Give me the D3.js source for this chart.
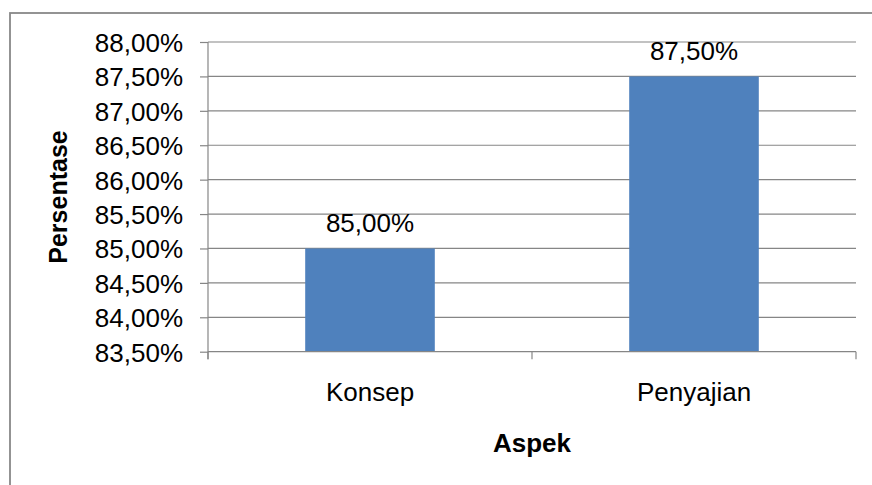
<!DOCTYPE html>
<html>
<head>
<meta charset="utf-8">
<script src="https://cdn.jsdelivr.net/npm/d3@7"></script>
<style>
  body { margin: 0; background: #fff; }
  text { font-family: "Liberation Sans", Arial, sans-serif; fill: #000; }
  .grid line { stroke: #868686; stroke-width: 1.2; }
  .axis path, .axis line { stroke: #868686; stroke-width: 1.2; }
</style>
</head>
<body>
<div id="chart"></div>
<script>
var categories = ["Konsep", "Penyajian"];
var values = [0.85, 0.875];
var yTicks = [0.835, 0.84, 0.845, 0.85, 0.855, 0.86, 0.865, 0.87, 0.875, 0.88];

var wd = 872;
var ht = 485;
var margin = { top: 42, right: 16, bottom: 133.3, left: 208 };

var locale = d3.formatLocale({ decimal: ",", thousands: ".", grouping: [3], currency: ["", ""] });
var pct = locale.format(".2%");

var svg = d3.select("#chart").append("svg").attr("width", wd).attr("height", ht);

// outer chart border (runs off the right and bottom edges)
svg.append("rect")
   .attr("x", 10).attr("y", 13)
   .attr("width", 900).attr("height", 520)
   .attr("fill", "none").attr("stroke", "#888").attr("stroke-width", 1.8);

var xScale = d3.scaleBand().domain(categories)
               .range([margin.left, wd - margin.right])
               .paddingInner(0.6).paddingOuter(0.3);
var yScale = d3.scaleLinear().domain([0.835, 0.88]).range([ht - margin.bottom, margin.top]);

// gridlines
svg.append("g").attr("class", "grid")
   .selectAll("line").data(yTicks.slice(1)).enter()
   .append("line")
   .attr("x1", margin.left).attr("x2", wd - margin.right)
   .attr("y1", function(d){ return yScale(d); })
   .attr("y2", function(d){ return yScale(d); });

// bars
svg.selectAll("rect.bar").data(values).enter()
   .append("rect").attr("class", "bar")
   .attr("x", function(d, i){ return xScale(categories[i]); })
   .attr("width", xScale.bandwidth())
   .attr("y", function(d){ return yScale(d); })
   .attr("height", function(d){ return yScale(0.835) - yScale(d); })
   .attr("fill", "#4F81BD");

// y axis
var yAxis = d3.axisLeft(yScale).tickValues(yTicks).tickSize(8).tickPadding(17).tickFormat(pct);
var gy = svg.append("g").attr("class", "axis y")
            .attr("transform", "translate(" + margin.left + ",0)").call(yAxis);
gy.select(".domain").attr("d", "M0," + margin.top + "V" + (ht - margin.bottom + 7.5));
gy.selectAll("text").style("font-size", "26px").attr("dy", "0.36em");

// x axis
var xAxis = d3.axisBottom(xScale).tickSize(0).tickPadding(30);
var gx = svg.append("g").attr("class", "axis x")
            .attr("transform", "translate(0," + (ht - margin.bottom) + ")").call(xAxis);
gx.select(".domain").attr("d", "M" + margin.left + ",0H" + (wd - margin.right));
gx.selectAll("text").style("font-size", "26px").attr("dy", "0.75em");

// category boundary ticks
var bounds = [margin.left, (margin.left + wd - margin.right) / 2, wd - margin.right];
gx.selectAll("line.bound").data(bounds).enter()
  .append("line").attr("class", "bound")
  .attr("x1", function(d){ return d; }).attr("x2", function(d){ return d; })
  .attr("y1", 0).attr("y2", 7.5);

// value labels
svg.selectAll("text.val").data(values).enter()
   .append("text").attr("class", "val")
   .attr("text-anchor", "middle")
   .attr("x", function(d, i){ return xScale(categories[i]) + xScale.bandwidth() / 2; })
   .attr("y", function(d){ return yScale(d) - 16.5; })
   .style("font-size", "26px")
   .text(function(d){ return pct(d); });

// axis titles
svg.append("text").attr("text-anchor", "middle")
   .attr("transform", "translate(67,197) rotate(-90)")
   .style("font-size", "25px").style("font-weight", "bold")
   .text("Persentase");
svg.append("text").attr("text-anchor", "middle")
   .attr("x", 532).attr("y", 452)
   .style("font-size", "26px").style("font-weight", "bold")
   .text("Aspek");
</script>
</body>
</html>
